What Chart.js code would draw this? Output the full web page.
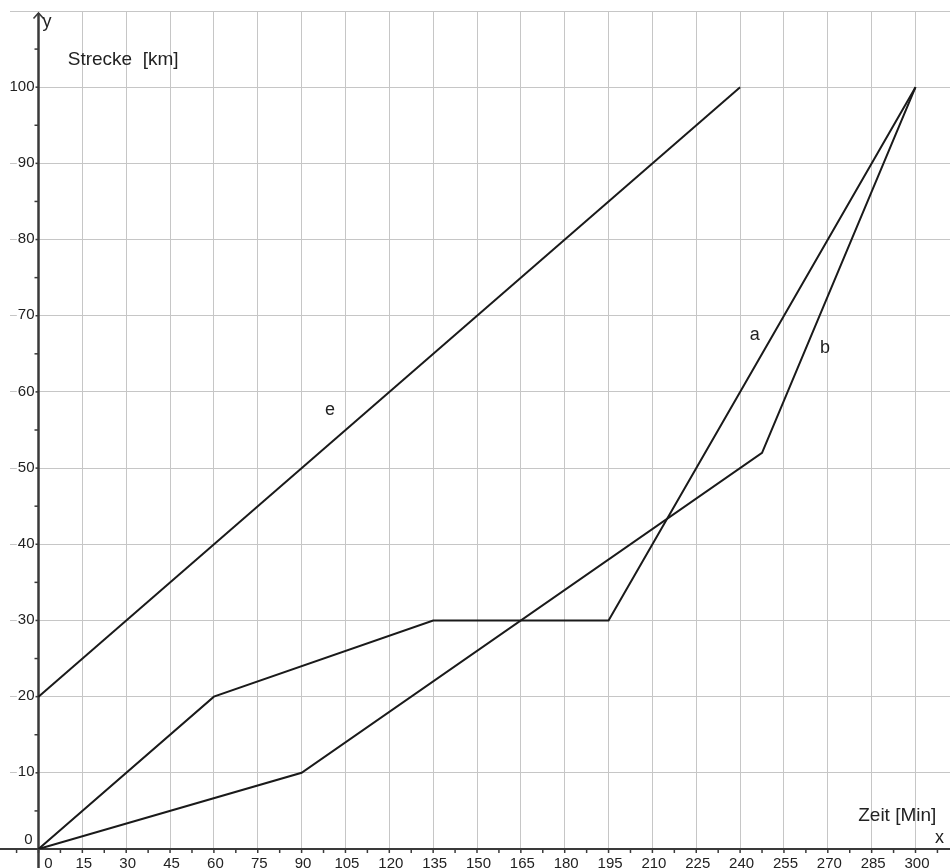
<!DOCTYPE html>
<html>
<head>
<meta charset="utf-8">
<script src="https://cdn.jsdelivr.net/npm/chart.js@4.4.1/dist/chart.umd.min.js"></script>
<style>
html,body{margin:0;padding:0;background:#fff;}
canvas{display:block;}
</style>
</head>
<body>
<canvas id="c" width="950" height="868"></canvas>
<script>
// ---- data ----
const xTickLabels = [0,15,30,45,60,75,90,105,120,135,150,165,180,195,210,225,240,255,270,285,300];
const yTickLabels = [0,10,20,30,40,50,60,70,80,90,100];
const yGridValues = [0,10,20,30,40,50,60,70,80,90,100,110];

const eTime = [0, 240];
const eDist = [20, 100];
const aTime = [0, 60, 135, 195, 300];
const aDist = [0, 20, 30, 30, 100];
const bTime = [0, 90, 247.5, 300];
const bDist = [0, 10, 52, 100];

const seriesNames = ['e', 'a', 'b'];
const xAxisTitle = 'Zeit [Min]';
const yAxisTitle = 'Strecke  [km]';

// label anchors (data coordinates)
const seriesLabelAt = { e: [99.7, 57.6], a: [245, 67.5], b: [269, 65.7] };

function pts(xs, ys){ return xs.map((x,i)=>({x:x, y:ys[i]})); }

const FONT = '"Liberation Sans", Arial, sans-serif';
const LINE = '#1a1a1a';

const overlay = {
  id: 'overlay',
  beforeDatasetsDraw(chart){
    const ctx = chart.ctx, xs = chart.scales.x, ys = chart.scales.y;
    const x0 = xs.getPixelForValue(0), y0 = ys.getPixelForValue(0);
    ctx.save();
    ctx.strokeStyle = '#3a3a3a';
    // x axis
    ctx.lineWidth = 2;
    ctx.beginPath(); ctx.moveTo(0, y0); ctx.lineTo(950, y0); ctx.stroke();
    // y axis
    ctx.lineWidth = 2.5;
    ctx.beginPath(); ctx.moveTo(x0, 868); ctx.lineTo(x0, 13); ctx.stroke();
    // arrow
    ctx.lineWidth = 1.6;
    ctx.beginPath(); ctx.moveTo(x0-5, 18.5); ctx.lineTo(x0, 13); ctx.lineTo(x0+5, 18.5); ctx.stroke();
    // x minor ticks every 7.5
    ctx.lineWidth = 1.5;
    for (let v = -7.5; v <= 310; v += 7.5){
      const p = xs.getPixelForValue(v);
      ctx.beginPath(); ctx.moveTo(p, y0); ctx.lineTo(p, y0+4); ctx.stroke();
    }
    // y minor ticks every 5
    for (let v = 5; v <= 105; v += 5){
      const p = ys.getPixelForValue(v);
      ctx.beginPath(); ctx.moveTo(x0-4, p); ctx.lineTo(x0, p); ctx.stroke();
    }
    ctx.restore();
  },
  afterDraw(chart){
    const ctx = chart.ctx, xs = chart.scales.x, ys = chart.scales.y;
    const x0 = xs.getPixelForValue(0), y0 = ys.getPixelForValue(0);
    ctx.save();
    ctx.fillStyle = '#222';
    ctx.font = '15px ' + FONT;
    // x tick labels
    ctx.textAlign = 'center';
    ctx.textBaseline = 'alphabetic';
    xTickLabels.forEach(v=>{
      let p = xs.getPixelForValue(v) + 1.5;
      if (v === 0) p = x0 + 10;
      ctx.fillText(String(v), p, 868);
    });
    // y tick labels with white background
    ctx.textAlign = 'right';
    ctx.textBaseline = 'middle';
    yTickLabels.forEach(v=>{
      const s = String(v);
      let py = ys.getPixelForValue(v) - 0.5;
      let px = x0 - 4;
      if (v === 0){ py = y0 - 9; px = x0 - 6; }
      const w = ctx.measureText(s).width;
      ctx.fillStyle = '#fff';
      ctx.fillRect(px - w - 1, py - 8, w + 2, 16);
      ctx.fillStyle = '#222';
      ctx.fillText(s, px, py);
    });
    // axis titles
    ctx.font = '19px ' + FONT;
    ctx.textAlign = 'left';
    ctx.fillText(yAxisTitle, xs.getPixelForValue(10), ys.getPixelForValue(103.6));
    ctx.fillText(xAxisTitle, xs.getPixelForValue(280.4), ys.getPixelForValue(4.4));
    ctx.font = '18px ' + FONT;
    ctx.fillText('y', x0 + 4, 22);
    ctx.fillText('x', 935, ys.getPixelForValue(1.5));
    // series labels
    ctx.textAlign = 'center';
    ctx.font = '18px ' + FONT;
    seriesNames.forEach(n=>{
      const [lx, ly] = seriesLabelAt[n];
      ctx.fillText(n, xs.getPixelForValue(lx), ys.getPixelForValue(ly));
    });
    ctx.restore();
  }
};

function ticksFrom(arr){ return function(scale){ scale.ticks = arr.map(v=>({value:v})); }; }

new Chart(document.getElementById('c'), {
  type: 'line',
  data: {
    datasets: [
      { label: 'e', data: pts(eTime, eDist) },
      { label: 'a', data: pts(aTime, aDist) },
      { label: 'b', data: pts(bTime, bDist) }
    ].map(d=>Object.assign(d, {borderColor: LINE, borderWidth: 2, pointRadius: 0, tension: 0, fill: false}))
  },
  options: {
    responsive: false,
    animation: false,
    layout: { padding: { left: 10, top: 11, right: 0, bottom: 19 } },
    plugins: { legend: { display: false }, tooltip: { enabled: false } },
    scales: {
      x: {
        type: 'linear', min: -9.75, max: 311.8,
        afterBuildTicks: ticksFrom(xTickLabels.filter(v=>v>0)),
        afterFit: s=>{ s.height = 0; },
        ticks: { display: false },
        border: { display: false },
        grid: { color: '#c6c6c6', lineWidth: 1, drawTicks: false }
      },
      y: {
        type: 'linear', min: 0, max: 110,
        afterBuildTicks: ticksFrom(yGridValues.filter(v=>v>0)),
        afterFit: s=>{ s.width = 0; },
        ticks: { display: false },
        border: { display: false },
        grid: { color: '#c6c6c6', lineWidth: 1, drawTicks: false }
      }
    }
  },
  plugins: [overlay]
});
</script>
</body>
</html>
